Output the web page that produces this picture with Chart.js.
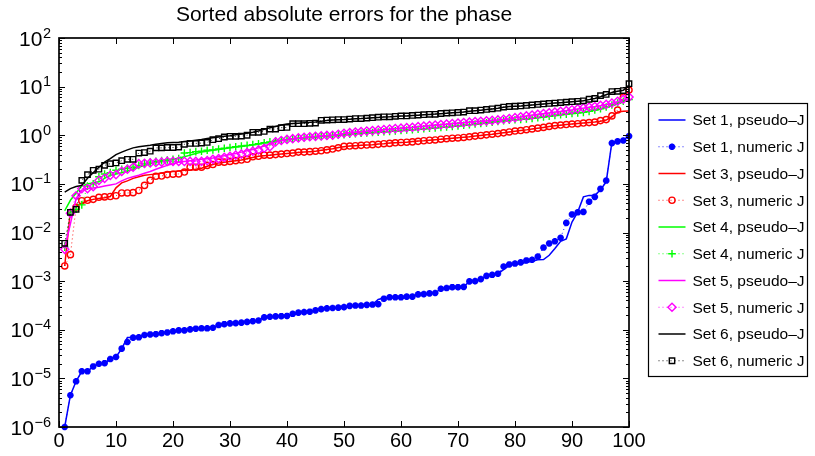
<!DOCTYPE html>
<html>
<head>
<meta charset="utf-8">
<script src="https://cdn.jsdelivr.net/npm/chart.js@4/dist/chart.umd.min.js"></script>
<style>
html,body{margin:0;padding:0;background:#ffffff;}
#c{display:block;}
</style>
</head>
<body>
<canvas id="c" width="815" height="456"></canvas>
<script>
// ---------------- DATA ----------------
const titleText = 'Sorted absolute errors for the phase';
const xTickLabels = [0, 10, 20, 30, 40, 50, 60, 70, 80, 90, 100];
const yExponents = [-6, -5, -4, -3, -2, -1, 0, 1, 2];
const runIndex = Array.from({length: 100}, (_, i) => i + 1);

const seriesNames = [
  'Set 1, pseudo\u2013J', 'Set 1, numeric J',
  'Set 3, pseudo\u2013J', 'Set 3, numeric J',
  'Set 4, pseudo\u2013J', 'Set 4, numeric J',
  'Set 5, pseudo\u2013J', 'Set 5, numeric J',
  'Set 6, pseudo\u2013J', 'Set 6, numeric J'
];

const set1Pseudo = [
  1.0e-6, 4.5e-6, 8.7e-6, 1.4e-5, 1.4e-5, 1.76e-5, 2.0e-5, 2.05e-5, 2.5e-5, 2.75e-5,
  4.1e-5, 6.9e-5, 7.0e-5, 7.2e-5, 7.8e-5, 8.0e-5, 8.1e-5, 8.5e-5, 8.8e-5, 9.3e-5,
  9.7e-5, 9.7e-5, 1.02e-4, 1.05e-4, 1.07e-4, 1.07e-4, 1.1e-4, 1.25e-4, 1.3e-4, 1.35e-4,
  1.37e-4, 1.4e-4, 1.45e-4, 1.5e-4, 1.55e-4, 1.8e-4, 1.85e-4, 1.88e-4, 1.9e-4, 1.92e-4,
  2.13e-4, 2.25e-4, 2.3e-4, 2.35e-4, 2.5e-4, 2.65e-4, 2.75e-4, 2.8e-4, 2.85e-4, 2.92e-4,
  3.1e-4, 3.15e-4, 3.15e-4, 3.25e-4, 3.3e-4, 4.2e-4, 4.5e-4, 4.65e-4, 4.65e-4, 4.65e-4,
  4.8e-4, 4.8e-4, 5.35e-4, 5.4e-4, 5.6e-4, 5.7e-4, 6.97e-4, 7.2e-4, 7.5e-4, 7.5e-4,
  7.6e-4, 9.9e-4, 1.0e-3, 1.1e-3, 1.28e-3, 1.35e-3, 1.42e-3, 1.72e-3, 2.1e-3, 2.28e-3,
  2.3e-3, 2.4e-3, 2.57e-3, 2.74e-3, 2.78e-3, 3.4e-3, 4.7e-3, 6.6e-3, 7.4e-3, 1.64e-2,
  2.63e-2, 5.4e-2, 5.8e-2, 5.8e-2, 7.6e-2, 0.11, 0.72, 0.75, 0.78, 1.0
];
const set1Numeric = [
  1.0e-6, 4.5e-6, 8.7e-6, 1.4e-5, 1.4e-5, 1.76e-5, 2.0e-5, 2.05e-5, 2.5e-5, 2.75e-5,
  4.1e-5, 5.6e-5, 6.9e-5, 7.0e-5, 7.8e-5, 8.0e-5, 8.1e-5, 8.5e-5, 8.8e-5, 9.3e-5,
  9.7e-5, 9.7e-5, 1.02e-4, 1.05e-4, 1.07e-4, 1.07e-4, 1.1e-4, 1.25e-4, 1.3e-4, 1.35e-4,
  1.37e-4, 1.4e-4, 1.45e-4, 1.5e-4, 1.55e-4, 1.8e-4, 1.85e-4, 1.88e-4, 1.9e-4, 1.92e-4,
  2.13e-4, 2.25e-4, 2.3e-4, 2.35e-4, 2.5e-4, 2.65e-4, 2.75e-4, 2.8e-4, 2.85e-4, 2.92e-4,
  3.1e-4, 3.15e-4, 3.15e-4, 3.25e-4, 3.3e-4, 3.35e-4, 4.35e-4, 4.65e-4, 4.65e-4, 4.65e-4,
  4.8e-4, 4.8e-4, 5.35e-4, 5.4e-4, 5.6e-4, 5.7e-4, 6.97e-4, 7.2e-4, 7.5e-4, 7.5e-4,
  7.6e-4, 9.9e-4, 1.0e-3, 1.1e-3, 1.28e-3, 1.35e-3, 1.42e-3, 2.0e-3, 2.2e-3, 2.3e-3,
  2.43e-3, 2.66e-3, 2.75e-3, 3.2e-3, 4.9e-3, 5.95e-3, 6.6e-3, 7.8e-3, 1.58e-2, 2.35e-2,
  2.6e-2, 2.65e-2, 4.3e-2, 5.4e-2, 7.9e-2, 0.117, 0.69, 0.75, 0.78, 0.96
];
const set3Pseudo = [
  2.05e-3, 0.028, 0.035, 0.040, 0.045, 0.048, 0.050, 0.052, 0.055, 0.083,
  0.105, 0.115, 0.13, 0.14, 0.15, 0.155, 0.16, 0.168, 0.175, 0.18,
  0.185, 0.19, 0.19, 0.20, 0.21, 0.23, 0.25, 0.27, 0.28, 0.29,
  0.30, 0.31, 0.33, 0.35, 0.37, 0.38, 0.39, 0.40, 0.41, 0.42,
  0.43, 0.44, 0.45, 0.46, 0.47, 0.49, 0.51, 0.53, 0.56, 0.58,
  0.60, 0.61, 0.62, 0.63, 0.64, 0.66, 0.67, 0.69, 0.70, 0.71,
  0.72, 0.74, 0.76, 0.77, 0.79, 0.81, 0.83, 0.85, 0.87, 0.89,
  0.91, 0.93, 0.96, 0.99, 1.02, 1.05, 1.09, 1.13, 1.17, 1.21,
  1.25, 1.29, 1.34, 1.39, 1.45, 1.51, 1.56, 1.61, 1.66, 1.70,
  1.74, 1.78, 1.82, 1.87, 1.95, 2.05, 2.4, 3.0, 3.1, 3.15
];
const set3Numeric = [
  2.05e-3, 3.5e-3, 0.033, 0.045, 0.046, 0.048, 0.053, 0.054, 0.055, 0.057,
  0.065, 0.065, 0.066, 0.073, 0.093, 0.118, 0.143, 0.145, 0.155, 0.158,
  0.16, 0.175, 0.22, 0.22, 0.22, 0.24, 0.25, 0.28, 0.28, 0.29,
  0.30, 0.31, 0.32, 0.36, 0.37, 0.39, 0.39, 0.40, 0.41, 0.42,
  0.43, 0.45, 0.45, 0.46, 0.47, 0.48, 0.50, 0.52, 0.55, 0.59,
  0.60, 0.61, 0.62, 0.63, 0.64, 0.65, 0.67, 0.68, 0.70, 0.71,
  0.72, 0.73, 0.75, 0.77, 0.79, 0.80, 0.83, 0.85, 0.87, 0.88,
  0.90, 0.93, 0.96, 0.99, 1.02, 1.05, 1.08, 1.12, 1.17, 1.22,
  1.25, 1.30, 1.35, 1.40, 1.45, 1.52, 1.58, 1.62, 1.66, 1.70,
  1.73, 1.78, 1.82, 1.86, 2.0, 2.1, 2.5, 3.3, 6.0, 8.5
];
const set4Pseudo = [
  0.028, 0.046, 0.065, 0.09, 0.10, 0.105, 0.11, 0.13, 0.15, 0.16,
  0.17, 0.185, 0.20, 0.22, 0.24, 0.26, 0.28, 0.29, 0.30, 0.32,
  0.34, 0.36, 0.39, 0.42, 0.45, 0.47, 0.49, 0.51, 0.53, 0.55,
  0.57, 0.59, 0.61, 0.63, 0.66, 0.69, 0.72, 0.75, 0.78, 0.81,
  0.84, 0.86, 0.88, 0.90, 0.92, 0.94, 0.96, 0.98, 1.00, 1.02,
  1.04, 1.07, 1.09, 1.11, 1.13, 1.15, 1.17, 1.19, 1.22, 1.24,
  1.27, 1.29, 1.32, 1.35, 1.38, 1.41, 1.44, 1.47, 1.51, 1.55,
  1.59, 1.64, 1.69, 1.74, 1.79, 1.85, 1.91, 1.97, 2.02, 2.07,
  2.11, 2.15, 2.21, 2.29, 2.37, 2.45, 2.54, 2.63, 2.71, 2.79,
  2.87, 2.95, 3.08, 3.28, 3.48, 3.75, 4.1, 4.5, 4.9, 5.3
];
const set4Numeric = [
  5.0e-3, 0.025, 0.03, 0.037, 0.09, 0.10, 0.14, 0.16, 0.17, 0.19,
  0.20, 0.21, 0.22, 0.24, 0.26, 0.28, 0.29, 0.30, 0.31, 0.32,
  0.33, 0.43, 0.44, 0.46, 0.47, 0.49, 0.50, 0.52, 0.54, 0.56,
  0.58, 0.60, 0.62, 0.64, 0.67, 0.70, 0.73, 0.76, 0.79, 0.82,
  0.85, 0.87, 0.89, 0.91, 0.93, 0.95, 0.97, 0.99, 1.01, 1.03,
  1.05, 1.08, 1.10, 1.12, 1.14, 1.16, 1.18, 1.20, 1.23, 1.25,
  1.28, 1.30, 1.33, 1.36, 1.39, 1.42, 1.45, 1.48, 1.52, 1.56,
  1.60, 1.65, 1.70, 1.75, 1.80, 1.86, 1.92, 1.98, 2.03, 2.08,
  2.12, 2.16, 2.22, 2.30, 2.38, 2.46, 2.55, 2.64, 2.72, 2.80,
  2.88, 2.96, 3.1, 3.3, 3.5, 3.8, 4.2, 4.6, 5.0, 5.4
];
const set5Pseudo = [
  4.7e-3, 0.015, 0.05, 0.074, 0.08, 0.082, 0.085, 0.09, 0.095, 0.10,
  0.115, 0.13, 0.14, 0.15, 0.165, 0.18, 0.20, 0.22, 0.24, 0.26,
  0.28, 0.29, 0.30, 0.31, 0.32, 0.33, 0.34, 0.36, 0.38, 0.40,
  0.42, 0.45, 0.48, 0.51, 0.55, 0.60, 0.66, 0.72, 0.77, 0.81,
  0.84, 0.87, 0.90, 0.92, 0.94, 0.96, 0.98, 1.0, 1.04, 1.09,
  1.12, 1.15, 1.18, 1.21, 1.24, 1.27, 1.30, 1.33, 1.36, 1.39,
  1.42, 1.45, 1.49, 1.53, 1.57, 1.61, 1.65, 1.69, 1.73, 1.77,
  1.81, 1.85, 1.89, 1.93, 1.97, 2.01, 2.06, 2.12, 2.19, 2.28,
  2.38, 2.48, 2.58, 2.68, 2.78, 2.88, 2.98, 3.08, 3.18, 3.32,
  3.46, 3.6, 3.75, 3.85, 4.05, 4.25, 4.5, 4.9, 5.4, 6.0
];
const set5Numeric = [
  4.5e-3, 0.025, 0.057, 0.08, 0.08, 0.088, 0.118, 0.13, 0.15, 0.155,
  0.18, 0.20, 0.22, 0.26, 0.265, 0.27, 0.275, 0.28, 0.29, 0.29,
  0.29, 0.29, 0.29, 0.29, 0.29, 0.30, 0.32, 0.33, 0.35, 0.37,
  0.39, 0.41, 0.44, 0.47, 0.50, 0.54, 0.58, 0.73, 0.78, 0.82,
  0.85, 0.88, 0.91, 0.93, 0.95, 0.97, 0.99, 1.0, 1.05, 1.10,
  1.13, 1.16, 1.19, 1.22, 1.25, 1.28, 1.31, 1.34, 1.37, 1.40,
  1.43, 1.46, 1.50, 1.54, 1.58, 1.62, 1.66, 1.70, 1.74, 1.78,
  1.82, 1.86, 1.90, 1.94, 1.98, 2.02, 2.07, 2.13, 2.2, 2.3,
  2.4, 2.5, 2.6, 2.7, 2.8, 2.9, 3.0, 3.1, 3.2, 3.35,
  3.5, 3.65, 3.8, 3.9, 4.1, 4.3, 4.6, 5.0, 5.5, 6.1
];
const set6Pseudo = [
  0.068, 0.08, 0.088, 0.093, 0.13, 0.17, 0.22, 0.28, 0.33, 0.40,
  0.45, 0.50, 0.55, 0.58, 0.60, 0.62, 0.65, 0.68, 0.70, 0.71,
  0.72, 0.74, 0.76, 0.79, 0.82, 0.86, 0.89, 0.92, 0.95, 0.98,
  1.02, 1.06, 1.10, 1.15, 1.22, 1.32, 1.43, 1.52, 1.62, 1.70,
  1.74, 1.77, 1.80, 1.84, 1.88, 1.95, 2.0, 2.05, 2.08, 2.1,
  2.14, 2.18, 2.2, 2.24, 2.28, 2.33, 2.38, 2.4, 2.44, 2.48,
  2.5, 2.54, 2.58, 2.63, 2.68, 2.72, 2.78, 2.84, 2.9, 2.95,
  3.0, 3.1, 3.2, 3.28, 3.38, 3.48, 3.6, 3.75, 3.88, 3.95,
  4.0, 4.08, 4.18, 4.28, 4.38, 4.48, 4.58, 4.68, 4.78, 4.88,
  4.98, 5.1, 5.4, 5.7, 6.2, 6.8, 7.6, 8.0, 8.4, 10.5
];
const set6Numeric = [
  6.0e-3, 0.026, 0.030, 0.118, 0.155, 0.19, 0.20, 0.24, 0.26, 0.27,
  0.30, 0.32, 0.32, 0.43, 0.44, 0.47, 0.55, 0.55, 0.56, 0.56,
  0.57, 0.65, 0.68, 0.68, 0.69, 0.71, 0.81, 0.85, 0.92, 0.95,
  0.95, 0.96, 1.0, 1.15, 1.15, 1.2, 1.34, 1.34, 1.43, 1.45,
  1.73, 1.73, 1.73, 1.76, 1.78, 2.03, 2.05, 2.08, 2.1, 2.1,
  2.15, 2.2, 2.2, 2.25, 2.3, 2.35, 2.4, 2.4, 2.45, 2.5,
  2.5, 2.55, 2.6, 2.65, 2.7, 2.7, 2.8, 2.85, 2.9, 2.95,
  3.0, 3.2, 3.2, 3.3, 3.4, 3.5, 3.6, 3.8, 3.9, 3.95,
  4.0, 4.1, 4.2, 4.3, 4.4, 4.5, 4.6, 4.7, 4.8, 4.9,
  5.0, 5.1, 5.5, 5.7, 6.5, 6.9, 7.9, 8.0, 8.3, 11.5
];

// ---------------- STYLE ----------------
const FONT = '"Liberation Sans", Arial, Helvetica, sans-serif';
const seriesValues = [set1Pseudo, set1Numeric, set3Pseudo, set3Numeric, set4Pseudo, set4Numeric,
                      set5Pseudo, set5Numeric, set6Pseudo, set6Numeric];
const seriesColors = ['#0000ff', '#0000ff', '#ff0000', '#ff0000', '#00ff00', '#00ff00',
                      '#ff00ff', '#ff00ff', '#000000', '#000000'];
const seriesMarkers = [null, 'star', null, 'circle', null, 'cross', null, 'rectRot', null, 'rect'];
const markerRadius = {star: 3.3, circle: 3.1, cross: 3.8, rectRot: 4.1, rect: 3.8};

function toPoints(vals) { return vals.map((v, i) => ({x: runIndex[i], y: v})); }

const datasets = seriesValues.map((vals, k) => {
  const m = seriesMarkers[k];
  const c = seriesColors[k];
  const base = {
    label: seriesNames[k],
    data: toPoints(vals),
    borderColor: c,
    backgroundColor: c,
    fill: false,
    tension: 0,
    clip: false,
    order: 9 - k
  };
  if (!m) {
    return Object.assign(base, {borderWidth: 1.5, pointRadius: 0, pointHoverRadius: 0});
  }
  return Object.assign(base, {
    borderWidth: 0.9,
    borderDash: [1, 3],
    pointStyle: m,
    pointRadius: markerRadius[m],
    pointHoverRadius: markerRadius[m],
    pointBorderColor: c,
    pointBackgroundColor: m === 'star' ? c : 'rgba(0,0,0,0)',
    pointBorderWidth: m === 'star' ? 2.2 : 1.4
  });
});

// marker drawer for legend
function drawMarker(ctx, style, x, y, r, color) {
  ctx.save();
  ctx.strokeStyle = color; ctx.fillStyle = color;
  ctx.setLineDash([]);
  ctx.beginPath();
  if (style === 'star') {
    ctx.lineWidth = 2.2;
    for (let a = 0; a < 4; a++) {
      const ang = a * Math.PI / 4;
      ctx.moveTo(x - r * Math.cos(ang), y - r * Math.sin(ang));
      ctx.lineTo(x + r * Math.cos(ang), y + r * Math.sin(ang));
    }
    ctx.stroke();
  } else if (style === 'circle') {
    ctx.lineWidth = 1.4;
    ctx.arc(x, y, r, 0, 2 * Math.PI); ctx.stroke();
  } else if (style === 'cross') {
    ctx.lineWidth = 1.4;
    ctx.moveTo(x - r, y); ctx.lineTo(x + r, y); ctx.moveTo(x, y - r); ctx.lineTo(x, y + r); ctx.stroke();
  } else if (style === 'rectRot') {
    ctx.lineWidth = 1.4;
    ctx.moveTo(x, y - r); ctx.lineTo(x + r, y); ctx.lineTo(x, y + r); ctx.lineTo(x - r, y); ctx.closePath(); ctx.stroke();
  } else if (style === 'rect') {
    ctx.lineWidth = 1.4;
    const s = r * Math.SQRT1_2;
    ctx.rect(x - s, y - s, 2 * s, 2 * s); ctx.stroke();
  }
  ctx.restore();
}

const framePlugin = {
  id: 'matlabFrame',
  afterDraw(chart) {
    const {ctx, chartArea: a, scales: {x, y}} = chart;
    ctx.save();
    ctx.strokeStyle = '#000';
    ctx.lineWidth = 1;
    ctx.beginPath();
    // x ticks (inward, top & bottom)
    x.ticks.forEach(t => {
      const px = Math.round(x.getPixelForValue(t.value)) + 0.5;
      ctx.moveTo(px, a.bottom); ctx.lineTo(px, a.bottom - 6);
      ctx.moveTo(px, a.top); ctx.lineTo(px, a.top + 6);
    });
    // y ticks (log, major + minor, inward, left & right)
    yExponents.forEach(k => {
      for (let m = 1; m <= 9; m++) {
        if (k === yExponents[yExponents.length - 1] && m > 1) break;
        const py = Math.round(y.getPixelForValue(m * Math.pow(10, k))) + 0.5;
        const len = m === 1 ? 6 : 3;
        ctx.moveTo(a.left, py); ctx.lineTo(a.left + len, py);
        ctx.moveTo(a.right, py); ctx.lineTo(a.right - len, py);
      }
    });
    ctx.stroke();
    // frame
    ctx.lineWidth = 1.7;
    ctx.strokeRect(a.left, a.top, a.right - a.left, a.bottom - a.top);

    // y labels 10^k
    ctx.fillStyle = '#000';
    ctx.textBaseline = 'alphabetic';
    const right = a.left - 8;
    yExponents.forEach(k => {
      const py = y.getPixelForValue(Math.pow(10, k));
      const expStr = k < 0 ? '\u2212' + Math.abs(k) : String(k);
      ctx.font = '14.5px ' + FONT;
      const ew = ctx.measureText(expStr).width;
      ctx.textAlign = 'left';
      ctx.fillText(expStr, right - ew, py - 0.5);
      ctx.font = '21px ' + FONT;
      ctx.textAlign = 'right';
      ctx.fillText('10', right - ew - 0.5, py + 7.5);
    });

    // legend box
    const lx = a.right + 19.5, ly = 103.5, lw = 159, lh = 273;
    ctx.fillStyle = '#fff';
    ctx.fillRect(lx, ly, lw, lh);
    ctx.lineWidth = 1.2;
    ctx.strokeStyle = '#000';
    ctx.strokeRect(lx, ly, lw, lh);
    ctx.font = '15.5px ' + FONT;
    ctx.textAlign = 'left';
    ctx.textBaseline = 'middle';
    seriesNames.forEach((name, k) => {
      const ry = ly + 16.5 + k * 26.75;
      const c = seriesColors[k];
      const m = seriesMarkers[k];
      ctx.save();
      ctx.strokeStyle = c;
      ctx.beginPath();
      if (m) { ctx.lineWidth = 0.9; ctx.setLineDash([1, 3]); } else { ctx.lineWidth = 1.5; }
      ctx.moveTo(lx + 10, ry); ctx.lineTo(lx + 37, ry);
      ctx.stroke();
      ctx.restore();
      if (m) drawMarker(ctx, m, lx + 23.5, ry, markerRadius[m], c);
      ctx.fillStyle = '#000';
      ctx.fillText(name, lx + 44, ry + 1);
    });
    ctx.restore();
  }
};

new Chart(document.getElementById('c'), {
  type: 'line',
  data: {datasets},
  options: {
    responsive: false,
    animation: false,
    devicePixelRatio: 1,
    events: [],
    layout: {padding: {left: 0, right: 186, top: 0, bottom: 0}},
    plugins: {
      legend: {display: false},
      tooltip: {enabled: false},
      title: {
        display: true,
        text: titleText,
        fullSize: false,
        color: '#000',
        font: {family: FONT, size: 21, weight: 'normal'},
        padding: {top: 3, bottom: 9.8}
      }
    },
    scales: {
      x: {
        type: 'linear',
        min: 0, max: 100,
        afterFit: s => { s.height = 29; },
        afterBuildTicks: s => { s.ticks = xTickLabels.map(v => ({value: v})); },
        grid: {display: false, drawTicks: false},
        border: {display: false},
        ticks: {color: '#000', font: {family: FONT, size: 20}, padding: 2, maxRotation: 0, autoSkip: false}
      },
      y: {
        type: 'logarithmic',
        min: 1e-6, max: 1e2,
        afterFit: s => { s.width = 59; },
        grid: {display: false, drawTicks: false},
        border: {display: false},
        ticks: {display: false}
      }
    }
  },
  plugins: [framePlugin]
});
</script>
</body>
</html>
